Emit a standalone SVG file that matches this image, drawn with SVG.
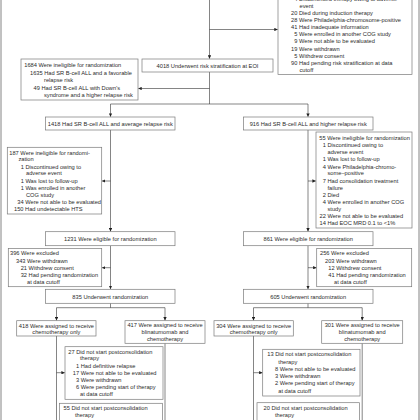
<svg xmlns="http://www.w3.org/2000/svg" width="420" height="420" viewBox="0 0 420 420">
<style>
.b{fill:#fff;stroke:#7a7a7a;stroke-width:0.7}
.t{font-family:"Liberation Sans",Arial,sans-serif;font-size:5.7px;fill:#2b2b2b}
.c{text-anchor:middle}
.l{fill:none;stroke:#333;stroke-width:0.6}
.a{marker-end:url(#ah)}
.f{fill:none;stroke:#666;stroke-width:0.8}
</style>
<defs>
<marker id="ah" viewBox="0 0 6 6" refX="6" refY="3" markerWidth="3.4" markerHeight="3.4" markerUnits="userSpaceOnUse" orient="auto">
<path d="M0,0 L6,3 L0,6 z" fill="#222"/>
</marker>
</defs>
<rect width="420" height="420" fill="#fff"/>
<g id="frame">
<line class="f" x1="1" y1="0" x2="1" y2="420"/>
<line class="f" x1="419" y1="0" x2="419" y2="420"/>
</g>
<g id="connectors">
<path class="l a" d="M209.5,0 V58.7"/>
<path class="l a" d="M209.5,29.5 H277.7"/>
<path class="l" d="M209.5,72 V104"/>
<path class="l a" d="M209.5,88.5 H138.3"/>
<path class="l" d="M110.5,104 H308"/>
<path class="l a" d="M110.5,104 V116.8"/>
<path class="l a" d="M308,104 V116.8"/>
<path class="l a" d="M110.5,130 V231.5"/>
<path class="l a" d="M110.5,181 H102"/>
<path class="l a" d="M308,130 V231.5"/>
<path class="l a" d="M308,181 H315.8"/>
<path class="l a" d="M110.5,245.7 V289.1"/>
<path class="l a" d="M110.5,267.7 H102"/>
<path class="l a" d="M308,245.7 V289.1"/>
<path class="l a" d="M308,267.7 H316.5"/>
<path class="l" d="M110.5,303.3 V307.7"/>
<path class="l" d="M56.5,307.7 H165"/>
<path class="l a" d="M56.5,307.7 V320.5"/>
<path class="l a" d="M165,307.7 V320.5"/>
<path class="l" d="M308,303.3 V307.7"/>
<path class="l" d="M253.5,307.7 H362.2"/>
<path class="l a" d="M253.5,307.7 V320.5"/>
<path class="l a" d="M362.2,307.7 V320.5"/>
<path class="l" d="M56.5,336 V420"/>
<path class="l a" d="M56.5,372.7 H64.8"/>
<path class="l" d="M165,343.3 V420"/>
<path class="l" d="M253.5,336 V420"/>
<path class="l a" d="M253.5,372.7 H262.5"/>
<path class="l" d="M362.2,343.3 V420"/>
</g>
<g id="n_top">
<rect class="b" x="278" y="-5" width="134" height="79.5"/>
<text class="t" x="294.3" y="0.8">4 Discontinued therapy owing to adverse</text>
<text class="t" x="299.5" y="7.5">event</text>
<text class="t" x="291" y="15">20 Died during induction therapy</text>
<text class="t" x="291" y="22">28 Were Philadelphia-chromosome-positive</text>
<text class="t" x="291" y="29">41 Had inadequate information</text>
<text class="t" x="294.3" y="36">5 Were enrolled in another COG study</text>
<text class="t" x="294.3" y="43.3">9 Were not able to be evaluated</text>
<text class="t" x="291" y="50.5">19 Were withdrawn</text>
<text class="t" x="294.3" y="57.5">5 Withdrew consent</text>
<text class="t" x="291" y="64.5">90 Had pending risk stratification at data</text>
<text class="t" x="299.5" y="71.5">cutoff</text>
</g>
<g id="n4018">
<rect class="b" x="142" y="59" width="131" height="13"/>
<text class="t c" x="207.5" y="67.5">4018 Underwent risk stratification at EOI</text>
</g>
<g id="n1684">
<rect class="b" x="21" y="59" width="117" height="41"/>
<text class="t" x="24.3" y="67">1684 Were ineligible for randomization</text>
<text class="t" x="30" y="74.5">1635 Had SR B-cell ALL and a favorable</text>
<text class="t" x="44" y="81.8">relapse risk</text>
<text class="t" x="33.5" y="89.5">49 Had SR B-cell ALL with Down’s</text>
<text class="t" x="44" y="96.8">syndrome and a higher relapse risk</text>
</g>
<g id="n1418">
<rect class="b" x="45.5" y="117" width="129.5" height="13"/>
<text class="t c" x="110.3" y="125.5">1418 Had SR B-cell ALL and average relapse risk</text>
</g>
<g id="n916">
<rect class="b" x="243.5" y="117" width="129.5" height="13"/>
<text class="t c" x="308.2" y="125.5">916 Had SR B-cell ALL and higher relapse risk</text>
</g>
<g id="n187">
<rect class="b" x="7.3" y="147.3" width="94.4" height="66.7"/>
<text class="t" x="9.3" y="154.7">187 Were ineligible for randomi-</text>
<text class="t" x="18.5" y="161.3">zation</text>
<text class="t" x="20.7" y="168.7">1 Discontinued owing to</text>
<text class="t" x="26" y="175.3">adverse event</text>
<text class="t" x="20.7" y="182.7">1 Was lost to follow-up</text>
<text class="t" x="20.7" y="189.7">1 Was enrolled in another</text>
<text class="t" x="26" y="196.7">COG study</text>
<text class="t" x="17.3" y="203.7">34 Were not able to be evaluated</text>
<text class="t" x="14" y="211">150 Had undetectable HTS</text>
</g>
<g id="n55a">
<rect class="b" x="316" y="132" width="96" height="96"/>
<text class="t" x="319.3" y="139.5">55 Were ineligible for randomization</text>
<text class="t" x="322.7" y="147">1 Discontinued owing to</text>
<text class="t" x="327.5" y="154.3">adverse event</text>
<text class="t" x="322.7" y="161.3">1 Was lost to follow-up</text>
<text class="t" x="322.7" y="168.7">4 Were Philadelphia-chromo-</text>
<text class="t" x="327.5" y="175.3">some–positive</text>
<text class="t" x="322.7" y="183">7 Had consolidation treatment</text>
<text class="t" x="327.5" y="190">failure</text>
<text class="t" x="322.7" y="197">2 Died</text>
<text class="t" x="322.7" y="204.3">4 Were enrolled in another COG</text>
<text class="t" x="327.5" y="211">study</text>
<text class="t" x="319.5" y="218">22 Were not able to be evaluated</text>
<text class="t" x="319.5" y="225.3">14 Had EOC MRD 0.1 to &lt;1%</text>
</g>
<g id="n1231">
<rect class="b" x="45.5" y="231.7" width="129.5" height="14"/>
<text class="t c" x="110.3" y="241">1231 Were eligible for randomization</text>
</g>
<g id="n861">
<rect class="b" x="243.5" y="231.7" width="129.5" height="14"/>
<text class="t c" x="308.2" y="241">861 Were eligible for randomization</text>
</g>
<g id="n396">
<rect class="b" x="8.3" y="248.5" width="93.4" height="38.2"/>
<text class="t" x="10" y="255.3">396 Were excluded</text>
<text class="t" x="16" y="262.7">343 Were withdrawn</text>
<text class="t" x="20.7" y="269.7">21 Withdrew consent</text>
<text class="t" x="20.7" y="277">32 Had pending randomization</text>
<text class="t" x="27" y="283.7">at data cutoff</text>
</g>
<g id="n256">
<rect class="b" x="316.7" y="248.5" width="95" height="38.2"/>
<text class="t" x="320" y="255.3">256 Were excluded</text>
<text class="t" x="325" y="262.7">203 Were withdrawn</text>
<text class="t" x="328.3" y="269.7">12 Withdrew consent</text>
<text class="t" x="328.3" y="277">41 Had pending randomization</text>
<text class="t" x="334" y="283.7">at data cutoff</text>
</g>
<g id="n835">
<rect class="b" x="45.5" y="289.3" width="129.5" height="14"/>
<text class="t c" x="110.3" y="298.5">835 Underwent randomization</text>
</g>
<g id="n605">
<rect class="b" x="243.5" y="289.3" width="129.5" height="14"/>
<text class="t c" x="308.2" y="298.5">605 Underwent randomization</text>
</g>
<g id="n418">
<rect class="b" x="16.7" y="320.7" width="79.3" height="15.3"/>
<text class="t c" x="56.4" y="327.5">418 Were assigned to receive</text>
<text class="t c" x="56.4" y="334.3">chemotherapy only</text>
</g>
<g id="n417">
<rect class="b" x="125" y="320.7" width="80" height="22.6"/>
<text class="t c" x="165" y="327.3">417 Were assigned to receive</text>
<text class="t c" x="165" y="334.3">blinatumomab and</text>
<text class="t c" x="165" y="341.3">chemotherapy</text>
</g>
<g id="n304">
<rect class="b" x="214" y="320.7" width="79.3" height="15.3"/>
<text class="t c" x="253.7" y="327.5">304 Were assigned to receive</text>
<text class="t c" x="253.7" y="334.3">chemotherapy only</text>
</g>
<g id="n301">
<rect class="b" x="321.7" y="320.7" width="81" height="22.6"/>
<text class="t c" x="362.2" y="327.3">301 Were assigned to receive</text>
<text class="t c" x="362.2" y="334.3">blinatumomab and</text>
<text class="t c" x="362.2" y="341.3">chemotherapy</text>
</g>
<g id="n27">
<rect class="b" x="65" y="346.7" width="98" height="52.6"/>
<text class="t" x="68.3" y="353.7">27 Did not start postconsolidation</text>
<text class="t" x="80" y="360.3">therapy</text>
<text class="t" x="76" y="368">1 Had definitive relapse</text>
<text class="t" x="72.8" y="374.7">17 Were not able to be evaluated</text>
<text class="t" x="76" y="382">3 Were withdrawn</text>
<text class="t" x="76" y="389.3">6 Were pending start of therapy</text>
<text class="t" x="80" y="396">at data cutoff</text>
</g>
<g id="n13">
<rect class="b" x="262.7" y="349.3" width="97.3" height="46.7"/>
<text class="t" x="267.3" y="356.3">13 Did not start postconsolidation</text>
<text class="t" x="278.3" y="363.7">therapy</text>
<text class="t" x="275" y="371">8 Were not able to be evaluated</text>
<text class="t" x="275" y="378">3 Were withdrawn</text>
<text class="t" x="275" y="385.3">2 Were pending start of therapy</text>
<text class="t" x="278.3" y="392.7">at data cutoff</text>
</g>
<g id="n55b">
<rect class="b" x="59.5" y="403.3" width="103" height="25"/>
<text class="t" x="63.5" y="410.3">55 Did not start postconsolidation</text>
<text class="t" x="75" y="417">therapy</text>
</g>
<g id="n20">
<rect class="b" x="257" y="402.7" width="102.5" height="25"/>
<text class="t" x="263.5" y="409.8">20 Did not start postconsolidation</text>
<text class="t" x="275" y="416.5">therapy</text>
</g>
</svg>
